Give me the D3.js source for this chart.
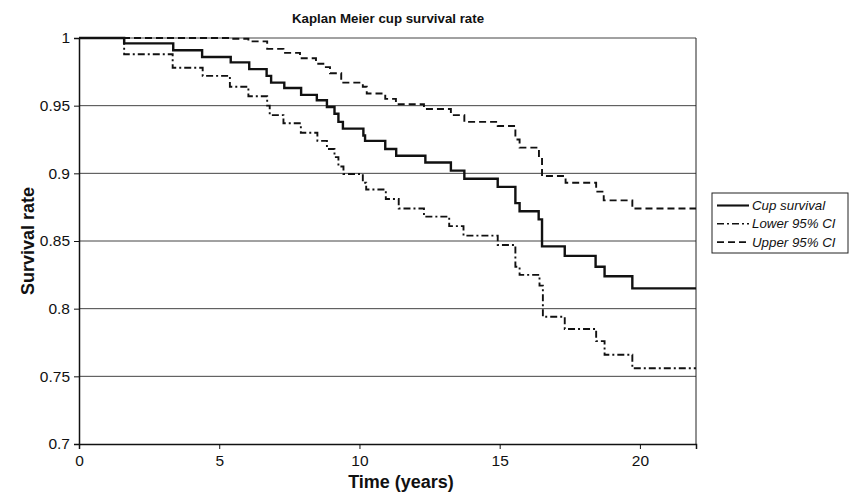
<!DOCTYPE html>
<html>
<head>
<meta charset="utf-8">
<script src="https://cdn.jsdelivr.net/npm/d3@7"></script>
<style>
  body { margin: 0; background: #fff; }
  svg { display: block; font-family: "Liberation Sans", Arial, sans-serif; }
</style>
</head>
<body>
<div id="chart"></div>
<script>
// Kaplan Meier step data
const survTimes = [0, 1.61, 3.36, 4.39, 5.41, 6.07, 6.69, 6.85, 7.32, 7.92, 8.48, 8.84, 9.11, 9.25, 9.41, 10.14, 10.2, 10.92, 11.31, 12.35, 13.26, 13.74, 14.93, 15.56, 15.71, 16.39, 16.51, 17.32, 18.42, 18.74, 19.73, 22];
const survValues = [1, 0.996, 0.991, 0.986, 0.982, 0.977, 0.972, 0.967, 0.963, 0.958, 0.954, 0.949, 0.944, 0.938, 0.933, 0.928, 0.924, 0.918, 0.913, 0.908, 0.902, 0.896, 0.89, 0.878, 0.872, 0.866, 0.846, 0.839, 0.831, 0.824, 0.815, 0.815];

const lowerTimes = [0, 1.61, 3.34, 4.41, 5.38, 6.04, 6.71, 6.8, 7.29, 7.91, 8.5, 8.84, 9.11, 9.25, 9.43, 10.12, 10.24, 10.94, 11.4, 12.3, 13.2, 13.71, 14.93, 15.56, 15.71, 16.42, 16.54, 17.32, 18.44, 18.74, 19.73, 22];
const lowerValues = [1, 0.988, 0.978, 0.972, 0.964, 0.957, 0.95, 0.943, 0.937, 0.93, 0.924, 0.918, 0.912, 0.905, 0.8995, 0.893, 0.888, 0.881, 0.874, 0.868, 0.861, 0.854, 0.847, 0.831, 0.825, 0.817, 0.794, 0.785, 0.776, 0.766, 0.756, 0.756];

const upperTimes = [0, 5.4, 6.04, 6.71, 7.29, 7.88, 8.45, 8.75, 8.95, 9.35, 10.12, 10.26, 10.92, 11.3, 12.3, 13.26, 13.74, 14.93, 15.56, 15.71, 16.4, 16.51, 17.35, 18.44, 18.71, 19.73, 22];
const upperValues = [1, 0.9995, 0.9975, 0.992, 0.989, 0.985, 0.981, 0.9785, 0.974, 0.967, 0.964, 0.959, 0.955, 0.951, 0.9475, 0.943, 0.938, 0.935, 0.925, 0.919, 0.912, 0.898, 0.893, 0.8865, 0.88, 0.874, 0.874];

const xTicks = [0, 5, 10, 15, 20];
const yTicks = [0.7, 0.75, 0.8, 0.85, 0.9, 0.95, 1];
const seriesNames = ["Cup survival", "Lower 95% CI", "Upper 95% CI"];

const width = 850, height = 494;
const marginLeft = 79, marginRight = 154, marginTop = 38, marginBottom = 50;

const svg = d3.select("#chart").append("svg")
  .attr("width", width)
  .attr("height", height)
  .attr("viewBox", [0, 0, width, height]);

const xScale = d3.scaleLinear([0, 22], [marginLeft, width - marginRight]);
const yScale = d3.scaleLinear([0.7, 1], [height - marginBottom, marginTop]);

// horizontal gridlines
svg.append("g")
  .selectAll("line")
  .data(yTicks.filter(d => d > 0.7))
  .join("line")
  .attr("x1", xScale(0))
  .attr("x2", xScale(22))
  .attr("y1", d => yScale(d))
  .attr("y2", d => yScale(d))
  .attr("stroke", "#444")
  .attr("stroke-width", 1);

// right border
svg.append("line")
  .attr("x1", xScale(22)).attr("x2", xScale(22))
  .attr("y1", yScale(1)).attr("y2", yScale(0.7))
  .attr("stroke", "#222").attr("stroke-width", 1);

// axes
svg.append("g")
  .attr("transform", `translate(0,${yScale(0.7)})`)
  .call(d3.axisBottom(xScale).tickValues(xTicks).tickSize(5).tickPadding(6).tickFormat(d3.format("d")))
  .call(g => g.select(".domain").attr("stroke", "#111").attr("stroke-width", 1.5))
  .call(g => g.selectAll(".tick line").attr("stroke", "#111"))
  .call(g => g.selectAll(".tick text").attr("font-size", 15.5).attr("fill", "#111")
    .attr("font-family", "Liberation Sans, Arial, sans-serif"));

svg.append("g")
  .attr("transform", `translate(${xScale(0)},0)`)
  .call(d3.axisLeft(yScale).tickValues(yTicks).tickSize(5).tickPadding(4).tickFormat(d => d === 1 ? "1" : d3.format(".2~f")(d)))
  .call(g => g.select(".domain").attr("stroke", "#111").attr("stroke-width", 1.5))
  .call(g => g.selectAll(".tick line").attr("stroke", "#111"))
  .call(g => g.selectAll(".tick text").attr("font-size", 15.5).attr("fill", "#111")
    .attr("font-family", "Liberation Sans, Arial, sans-serif"));

// step lines
const line = d3.line()
  .x(d => xScale(d[0]))
  .y(d => yScale(d[1]))
  .curve(d3.curveStepAfter);

const series = [
  { name: seriesNames[0], pts: d3.zip(survTimes, survValues), dash: null, w: 2.4 },
  { name: seriesNames[1], pts: d3.zip(lowerTimes, lowerValues), dash: "7,3,2,3", w: 1.9 },
  { name: seriesNames[2], pts: d3.zip(upperTimes, upperValues), dash: "7,4", w: 1.9 },
];

svg.append("g")
  .selectAll("path")
  .data(series)
  .join("path")
  .attr("d", d => line(d.pts))
  .attr("fill", "none")
  .attr("stroke", "#111")
  .attr("stroke-width", d => d.w)
  .attr("stroke-dasharray", d => d.dash);

// title and axis labels
svg.append("text")
  .attr("x", 388).attr("y", 23)
  .attr("text-anchor", "middle")
  .attr("font-size", 13.3).attr("font-weight", "bold").attr("fill", "#111")
  .text("Kaplan Meier cup survival rate");

svg.append("text")
  .attr("x", 401).attr("y", 488)
  .attr("text-anchor", "middle")
  .attr("font-size", 18).attr("font-weight", "bold").attr("fill", "#111")
  .text("Time (years)");

svg.append("text")
  .attr("transform", `translate(34,${(yScale(0.7) + yScale(1)) / 2}) rotate(-90)`)
  .attr("text-anchor", "middle")
  .attr("font-size", 18).attr("font-weight", "bold").attr("fill", "#111")
  .text("Survival rate");

// legend
const legend = svg.append("g").attr("transform", "translate(712,193)");
legend.append("rect")
  .attr("width", 136).attr("height", 60)
  .attr("fill", "#fff").attr("stroke", "#222").attr("stroke-width", 1);

const rows = legend.selectAll("g")
  .data(series)
  .join("g")
  .attr("transform", (d, i) => `translate(0,${12.5 + i * 18.3})`);

rows.append("line")
  .attr("x1", 5).attr("x2", 37)
  .attr("stroke", "#111")
  .attr("stroke-width", d => d.w - 0.3)
  .attr("stroke-dasharray", d => d.dash);

rows.append("text")
  .attr("x", 40).attr("y", 4.5)
  .attr("font-size", 13.3).attr("font-style", "italic").attr("fill", "#111")
  .text(d => d.name);
</script>
</body>
</html>
